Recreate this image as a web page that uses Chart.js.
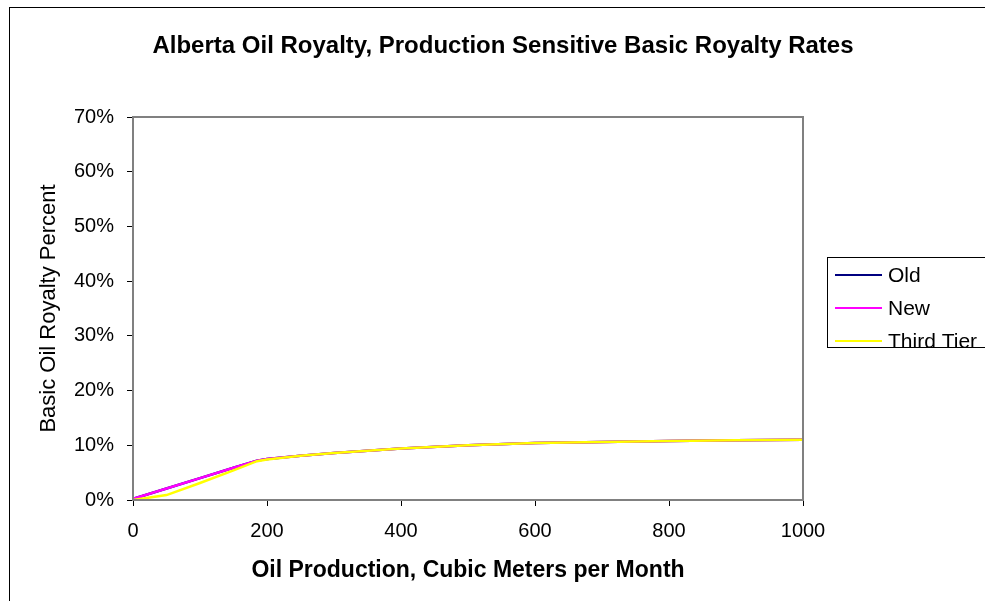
<!DOCTYPE html>
<html>
<head>
<meta charset="utf-8">
<title>Alberta Oil Royalty</title>
<script src="https://cdn.jsdelivr.net/npm/chart.js@4/dist/chart.umd.min.js"></script>
<style>
  html, body { margin: 0; padding: 0; background: #fff; }
  canvas { display: block; }
</style>
</head>
<body>
<canvas id="chart" width="985" height="601"></canvas>
<script>
// production, m3 per month
const production = [0, 50, 100, 150, 185, 200, 250, 300, 400, 500, 600, 700, 800, 900, 1000];
// basic royalty rate, percent
const oldRate   = [0.2, 2.1, 4.0, 5.9, 7.2, 7.5, 8.1, 8.6, 9.4, 10.0, 10.4, 10.6, 10.8, 10.9, 11.0];
const newRate   = [0.2, 2.1, 4.0, 5.9, 7.2, 7.5, 8.1, 8.6, 9.4, 10.0, 10.4, 10.6, 10.8, 10.9, 11.0];
const thirdTier = [0.0, 0.9, 3.1, 5.4, 7.1, 7.4, 8.1, 8.6, 9.4, 10.0, 10.4, 10.6, 10.8, 10.9, 11.0];
const xTicks = [0, 200, 400, 600, 800, 1000];
const yTicks = [0, 10, 20, 30, 40, 50, 60, 70];
const chartTitle = 'Alberta Oil Royalty, Production Sensitive Basic Royalty Rates';

const FONT = 'Arial, "Liberation Sans", sans-serif';
const pts = ys => production.map((x, i) => ({ x, y: ys[i] }));
// lower order is painted last, so Third Tier ends up on top
const series = (label, ys, color, order) => ({
  label, data: pts(ys), borderColor: color, backgroundColor: color, order,
  borderWidth: 2.5, pointRadius: 0, tension: 0, fill: false,
});

// outer frame, title, grey plot box and the legend are drawn by hand
const decor = {
  id: 'decor',
  beforeDraw(chart) {
    const c = chart.ctx;
    c.save();
    c.strokeStyle = '#000';
    c.lineWidth = 1;
    c.strokeRect(9.5, 7.5, 1200, 1200);
    c.fillStyle = '#000';
    c.font = 'bold 24px ' + FONT;
    c.textAlign = 'center';
    c.textBaseline = 'middle';
    c.fillText(chartTitle, 503, 46);
    c.restore();
  },
  afterDatasetsDraw(chart) {
    const c = chart.ctx, a = chart.chartArea;
    c.save();
    c.strokeStyle = '#808080';
    c.lineWidth = 2;
    c.strokeRect(a.left, a.top, a.right - a.left, a.bottom - a.top);
    // legend
    c.strokeStyle = '#000';
    c.lineWidth = 1;
    c.fillStyle = '#fff';
    c.fillRect(827.5, 257.5, 160, 90);
    c.strokeRect(827.5, 257.5, 160, 90);
    const rows = [275, 308, 341];
    c.font = '21px ' + FONT;
    c.textBaseline = 'middle';
    chart.data.datasets.forEach((ds, i) => {
      c.strokeStyle = ds.borderColor;
      c.lineWidth = 2;
      c.beginPath();
      c.moveTo(835, rows[i]);
      c.lineTo(882, rows[i]);
      c.stroke();
      c.fillStyle = '#000';
      c.fillText(ds.label, 888, rows[i] + 1);
    });
    c.restore();
  }
};

new Chart(document.getElementById('chart'), {
  type: 'line',
  data: {
    datasets: [
      series('Old', oldRate, '#000080', 2),
      series('New', newRate, '#ff00ff', 1),
      series('Third Tier', thirdTier, '#ffff00', 0),
    ]
  },
  options: {
    responsive: false,
    animation: false,
    layout: { padding: { left: 0, top: 117, right: 182, bottom: 0 } },
    plugins: {
      legend: { display: false },
      tooltip: { enabled: false },
      title: { display: false },
    },
    scales: {
      x: {
        type: 'linear', min: 0, max: 1000,
        afterBuildTicks: s => { s.ticks = xTicks.map(v => ({ value: v })); },
        afterFit: s => { s.height = 101; },
        border: { display: false },
        grid: { drawOnChartArea: false, drawTicks: true, tickLength: 6, color: '#000' },
        ticks: { color: '#000', padding: 13, maxRotation: 0, font: { family: FONT, size: 20 }, callback: v => String(v) },
        title: {
          display: true, text: 'Oil Production, Cubic Meters per Month', color: '#000',
          font: { family: FONT, size: 23, weight: 'bold' }, padding: { top: 0, bottom: 17 },
        },
      },
      y: {
        min: 0, max: 70,
        afterBuildTicks: s => { s.ticks = yTicks.map(v => ({ value: v })); },
        afterFit: s => { s.width = 133; },
        border: { display: false },
        grid: { drawOnChartArea: false, drawTicks: true, tickLength: 6, color: '#000' },
        ticks: { color: '#000', padding: 13, font: { family: FONT, size: 20 }, callback: v => v + '%' },
        title: {
          display: true, text: 'Basic Oil Royalty Percent', color: '#000',
          font: { family: FONT, size: 22 }, padding: { top: 36, bottom: 0 },
        },
      },
    },
  },
  plugins: [decor],
});
</script>
</body>
</html>
